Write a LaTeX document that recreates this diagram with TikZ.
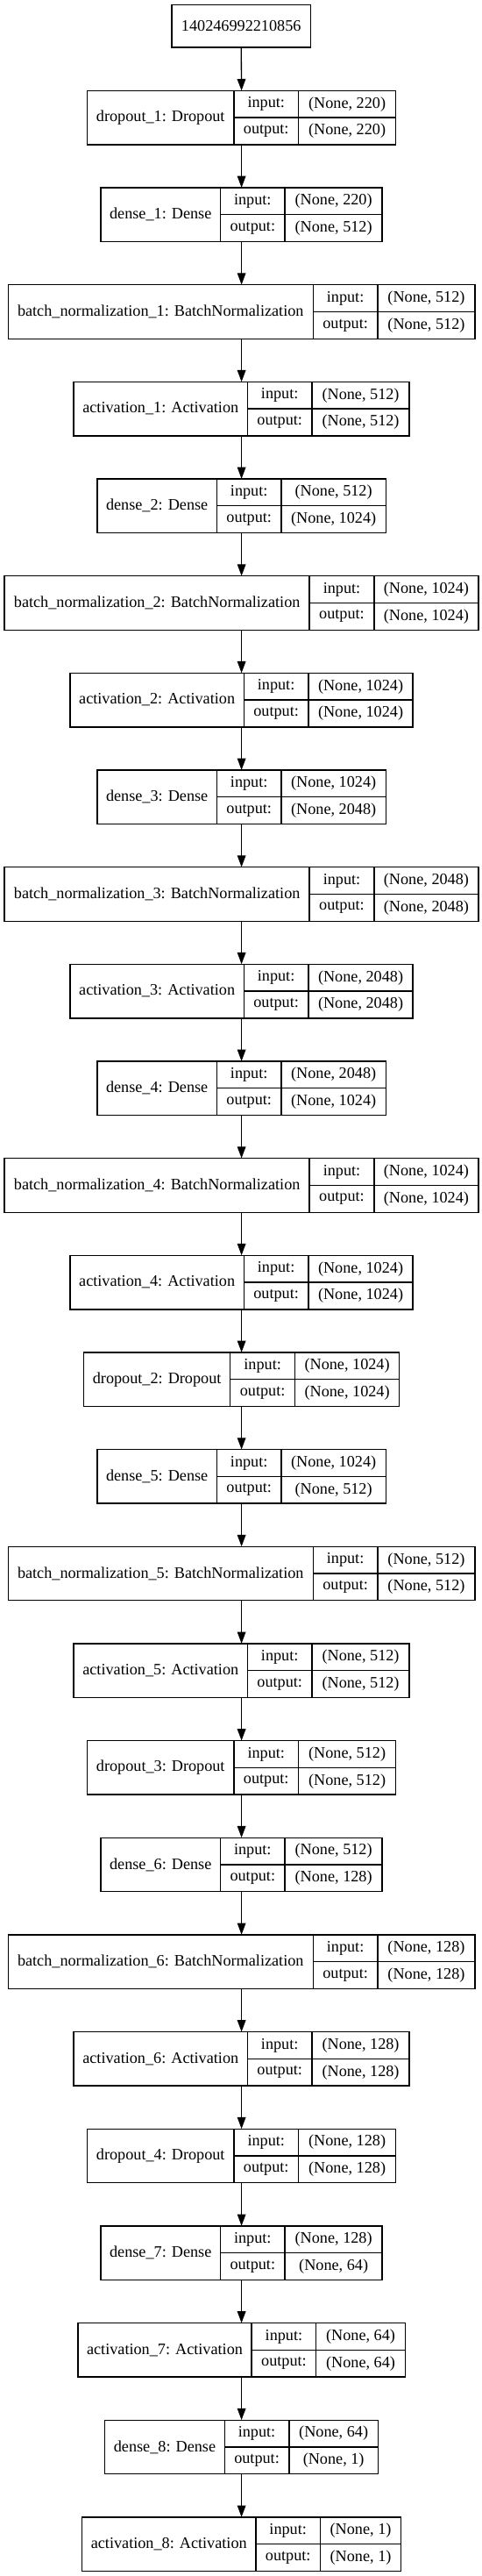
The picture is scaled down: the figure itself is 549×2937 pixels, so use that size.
\documentclass[tikz,border=0pt]{standalone}
\usepackage{fontspec}
\setmainfont{Liberation Serif}
\usetikzlibrary{arrows.meta}
\tikzset{
  frame/.style={draw=none, inner sep=0pt, outer sep=0pt, minimum height=61.6pt},
  cell/.style={draw=black, line width=1.33pt, inner sep=0pt, outer sep=0pt,
     font=\fontsize{18.2}{21}\selectfont},
  namecell/.style={cell, minimum height=61.6pt},
  halfcell/.style={cell, minimum height=30.8pt},
  arr/.style={draw=black, line width=1.33pt, -{Triangle[length=13.3pt, width=9.6pt]}}
}
\newcommand{\layer}[7]{%
  \pgfmathsetmacro{\tw}{#4+73.7+#5}%
  \pgfmathsetmacro{\yc}{134.1+#2*110.66}%
  \node[frame, minimum width=\tw pt] (#1) at (275.6,\yc) {};
  \node[namecell, minimum width=#4pt, anchor=north west] (#1-n) at (#1.north west) {#3};
  \node[halfcell, minimum width=73.7pt, anchor=north west] (#1-i) at (#1-n.north east) {input:};
  \node[halfcell, minimum width=73.7pt, anchor=north west] (#1-o) at (#1-i.south west) {output:};
  \node[halfcell, minimum width=#5pt, anchor=north west] (#1-iv) at (#1-i.north east) {#6};
  \node[halfcell, minimum width=#5pt, anchor=north west] (#1-ov) at (#1-o.north east) {#7};
}
\begin{document}
\begin{tikzpicture}[x=1pt, y=-1pt]
\useasboundingbox (0,0) rectangle (549,2937);
\node[cell, minimum width=158.2pt, minimum height=48.3pt] (in) at (275.2,29.85) {140246992210856};
\layer{L0}{0}{dropout\_1: Dropout}{167.3}{111}{(None, 220)}{(None, 220)}
\layer{L1}{1}{dense\_1: Dense}{136.4}{111}{(None, 220)}{(None, 512)}
\layer{L2}{2}{batch\_normalization\_1: BatchNormalization}{348}{111}{(None, 512)}{(None, 512)}
\layer{L3}{3}{activation\_1: Activation}{198.2}{111}{(None, 512)}{(None, 512)}
\layer{L4}{4}{dense\_2: Dense}{136.4}{119.2}{(None, 512)}{(None, 1024)}
\layer{L5}{5}{batch\_normalization\_2: BatchNormalization}{348}{119.2}{(None, 1024)}{(None, 1024)}
\layer{L6}{6}{activation\_2: Activation}{198.2}{119.2}{(None, 1024)}{(None, 1024)}
\layer{L7}{7}{dense\_3: Dense}{136.4}{119.2}{(None, 1024)}{(None, 2048)}
\layer{L8}{8}{batch\_normalization\_3: BatchNormalization}{348}{119.2}{(None, 2048)}{(None, 2048)}
\layer{L9}{9}{activation\_3: Activation}{198.2}{119.2}{(None, 2048)}{(None, 2048)}
\layer{L10}{10}{dense\_4: Dense}{136.4}{119.2}{(None, 2048)}{(None, 1024)}
\layer{L11}{11}{batch\_normalization\_4: BatchNormalization}{348}{119.2}{(None, 1024)}{(None, 1024)}
\layer{L12}{12}{activation\_4: Activation}{198.2}{119.2}{(None, 1024)}{(None, 1024)}
\layer{L13}{13}{dropout\_2: Dropout}{167.3}{119.2}{(None, 1024)}{(None, 1024)}
\layer{L14}{14}{dense\_5: Dense}{136.4}{119.2}{(None, 1024)}{(None, 512)}
\layer{L15}{15}{batch\_normalization\_5: BatchNormalization}{348}{111}{(None, 512)}{(None, 512)}
\layer{L16}{16}{activation\_5: Activation}{198.2}{111}{(None, 512)}{(None, 512)}
\layer{L17}{17}{dropout\_3: Dropout}{167.3}{111}{(None, 512)}{(None, 512)}
\layer{L18}{18}{dense\_6: Dense}{136.4}{111}{(None, 512)}{(None, 128)}
\layer{L19}{19}{batch\_normalization\_6: BatchNormalization}{348}{111}{(None, 128)}{(None, 128)}
\layer{L20}{20}{activation\_6: Activation}{198.2}{111}{(None, 128)}{(None, 128)}
\layer{L21}{21}{dropout\_4: Dropout}{167.3}{111}{(None, 128)}{(None, 128)}
\layer{L22}{22}{dense\_7: Dense}{136.4}{111}{(None, 128)}{(None, 64)}
\layer{L23}{23}{activation\_7: Activation}{198.2}{101.5}{(None, 64)}{(None, 64)}
\layer{L24}{24}{dense\_8: Dense}{136.4}{101.5}{(None, 64)}{(None, 1)}
\layer{L25}{25}{activation\_8: Activation}{198.2}{92}{(None, 1)}{(None, 1)}
\draw[arr] (in.south) -- (L0.north);
\foreach \a/\b in {L0/L1,L1/L2,L2/L3,L3/L4,L4/L5,L5/L6,L6/L7,L7/L8,L8/L9,L9/L10,L10/L11,L11/L12,L12/L13,L13/L14,L14/L15,L15/L16,L16/L17,L17/L18,L18/L19,L19/L20,L20/L21,L21/L22,L22/L23,L23/L24,L24/L25}
  \draw[arr] (\a.south) -- (\b.north);
\end{tikzpicture}
\end{document}
